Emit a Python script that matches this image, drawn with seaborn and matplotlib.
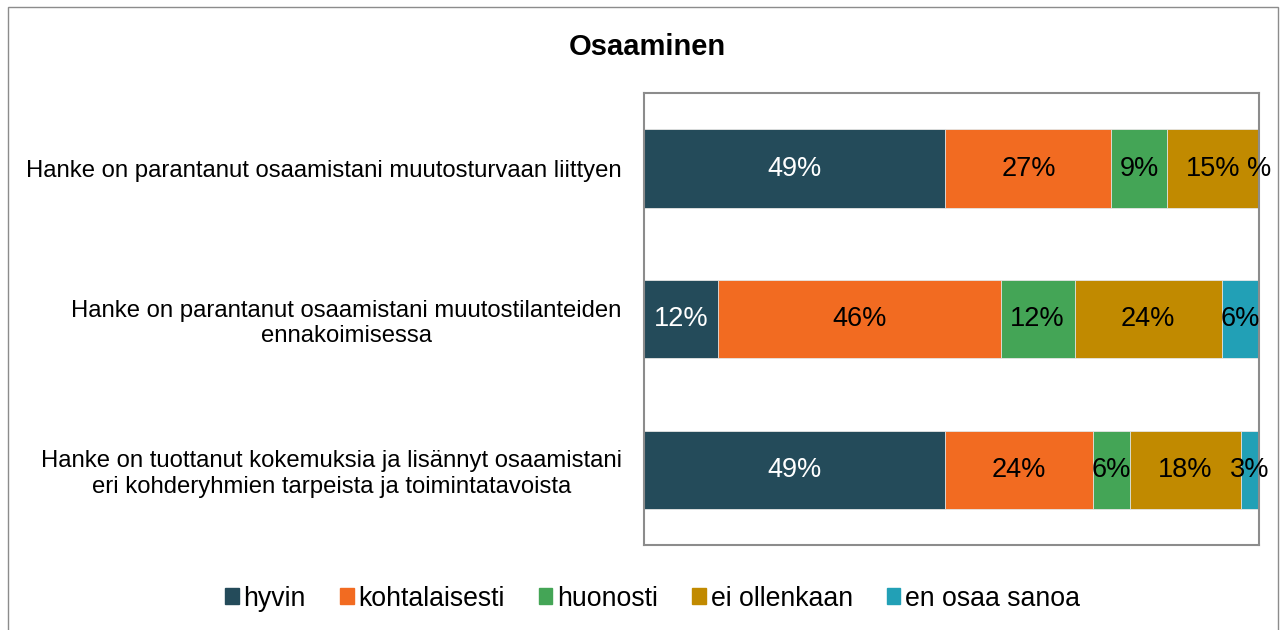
import seaborn as sns
import matplotlib.pyplot as plt
import pandas as pd
from matplotlib.patches import Rectangle, Patch

# kysymykset ja vastausjakaumat (%)
questions = [
    "Hanke on parantanut osaamistani muutosturvaan liittyen",
    "Hanke on parantanut osaamistani muutostilanteiden\nennakoimisessa",
    "Hanke on tuottanut kokemuksia ja lisännyt osaamistani\neri kohderyhmien tarpeista ja toimintatavoista",
]
answers = ["hyvin", "kohtalaisesti", "huonosti", "ei ollenkaan", "en osaa sanoa"]
hyvin = [49, 12, 49]
kohtalaisesti = [27, 46, 24]
huonosti = [9, 12, 6]
ei_ollenkaan = [15, 24, 18]
en_osaa_sanoa = [0, 6, 3]
colors = ["#244B5A", "#F26B21", "#44A556", "#C18A00", "#22A0B6"]
label_colors = ["white", "black", "black", "black", "black"]

df = pd.DataFrame({"kysymys": questions, "hyvin": hyvin, "kohtalaisesti": kohtalaisesti,
                   "huonosti": huonosti, "ei ollenkaan": ei_ollenkaan,
                   "en osaa sanoa": en_osaa_sanoa})
cum = df[answers].cumsum(axis=1)

sns.set_style("white")
plt.rcParams["font.family"] = ["Liberation Sans", "DejaVu Sans"]
plt.rcParams["text.color"] = "black"
plt.rcParams["ytick.color"] = "black"

fig = plt.figure(figsize=(12.86, 6.30), dpi=100)
ax = fig.add_axes([0.5008, 0.135, 0.4782, 0.717])

# kumulatiiviset palkit, pisin ensin
for i in range(len(answers) - 1, -1, -1):
    sns.barplot(x=cum[answers[i]], y=df["kysymys"], color=colors[i], orient="h",
                width=0.52, ax=ax, saturation=1, edgecolor="#e8e8e8", linewidth=0.6)

# arvot
for r in range(len(questions)):
    for i, a in enumerate(answers):
        v = df.loc[r, a]
        left = cum.loc[r, a] - v
        txt = f"{v:.0f}%" if v > 0 else "%"
        ax.text(left + v / 2, r, txt, ha="center", va="center",
                color=label_colors[i], fontsize=19.5)

ax.set_xlim(0, 100)
ax.set_ylim(2.5, -0.5)
ax.set_xticks([])
ax.set_xlabel("")
ax.set_ylabel("")
ax.tick_params(axis="y", length=0, pad=16, labelsize=17.2, labelcolor="black")
for lab in ax.get_yticklabels():
    lab.set_multialignment("center")
for s in ax.spines.values():
    s.set_visible(True)
    s.set_color("#8c8c8c")
    s.set_linewidth(1.5)

fig.text(0.5035, 0.926, "Osaaminen", ha="center", va="center",
         fontsize=21, fontweight="bold")

handles = [Patch(color=c, label=a) for c, a in zip(colors, answers)]
fig.legend(handles=handles, loc="center", bbox_to_anchor=(0.5074, 0.05), ncol=5,
           frameon=False, fontsize=19.2, handlelength=0.52, handleheight=0.56,
           handletextpad=0.18, columnspacing=1.27)

fig.patches.append(Rectangle((0.006, -0.01), 0.988, 0.999, transform=fig.transFigure,
                             fill=False, edgecolor="#8c8c8c", linewidth=1))

fig.savefig("out.png", dpi=100)
